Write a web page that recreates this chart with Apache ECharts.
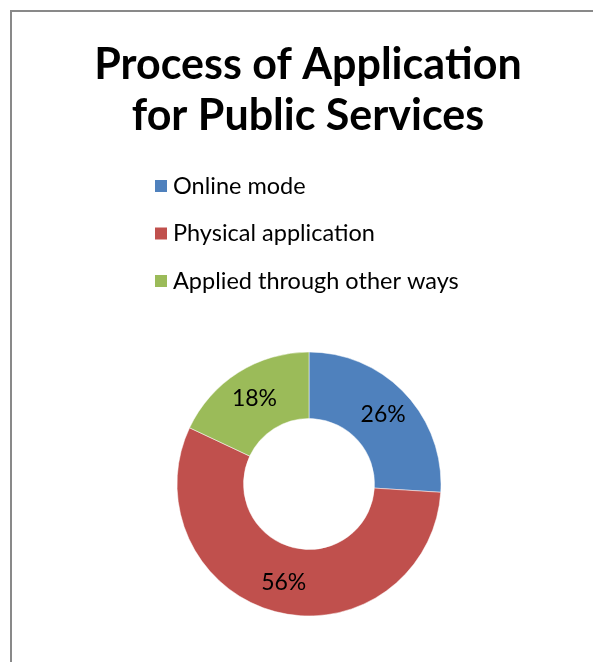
<!DOCTYPE html>
<html>
<head>
<meta charset="utf-8">
<script src="https://cdn.jsdelivr.net/npm/echarts@6/dist/echarts.min.js"></script>
<style>
  html, body { margin: 0; padding: 0; background: #fff; }
  #chart { width: 593px; height: 662px; }
</style>
</head>
<body>
<div id="chart"></div>
<script>
// Survey: how respondents applied for public services
const categories = ['Online mode', 'Physical application', 'Applied through other ways'];
const shares = [26, 56, 18];
const colors = ['#4F81BD', '#C0504D', '#9BBB59'];

const FONT = 'Lato, "Open Sans", sans-serif';
// "Applica" and "tion" are drawn as separate runs so no "ti" ligature forms
const titleText = '{t|Process of Applica}{t|tion}\n{t|for Public Services}';

const titleStyle = {
  fontFamily: FONT,
  fontWeight: 'bold',
  fontSize: 43,
  lineHeight: 51,
  fill: '#000'
};

const chart = echarts.init(document.getElementById('chart'), null, { renderer: 'canvas' });

chart.setOption({
  backgroundColor: '#fff',
  animation: false,
  legend: {
    orient: 'vertical',
    left: 153,
    top: 174,
    padding: 0,
    itemWidth: 14,
    itemHeight: 14,
    itemGap: 23.5,
    icon: 'rect',
    textStyle: {
      fontFamily: FONT,
      fontSize: 23.5,
      lineHeight: 24,
      color: '#000'
    },
    data: categories
  },
  graphic: [{
    type: 'rect',
    silent: true,
    shape: { x: 11, y: 11, width: 700, height: 700 },
    style: { fill: 'none', stroke: '#898989', lineWidth: 2 }
  }, {
    type: 'text',
    silent: true,
    x: 308,
    y: 40,
    style: Object.assign({
      text: titleText,
      align: 'center',
      verticalAlign: 'top',
      rich: { t: titleStyle }
    }, titleStyle)
  }],
  series: [{
    type: 'pie',
    center: [309, 484],
    radius: [65.5, 132],
    startAngle: 90,
    clockwise: true,
    avoidLabelOverlap: false,
    itemStyle: { borderColor: '#fff', borderWidth: 0.5 },
    label: {
      show: true,
      position: 'inside',
      formatter: '{c}%',
      fontFamily: FONT,
      fontSize: 23,
      color: '#000'
    },
    labelLine: { show: false },
    emphasis: { disabled: true },
    data: categories.map((name, i) => ({
      name: name,
      value: shares[i],
      itemStyle: { color: colors[i] }
    }))
  }]
});
</script>
</body>
</html>
